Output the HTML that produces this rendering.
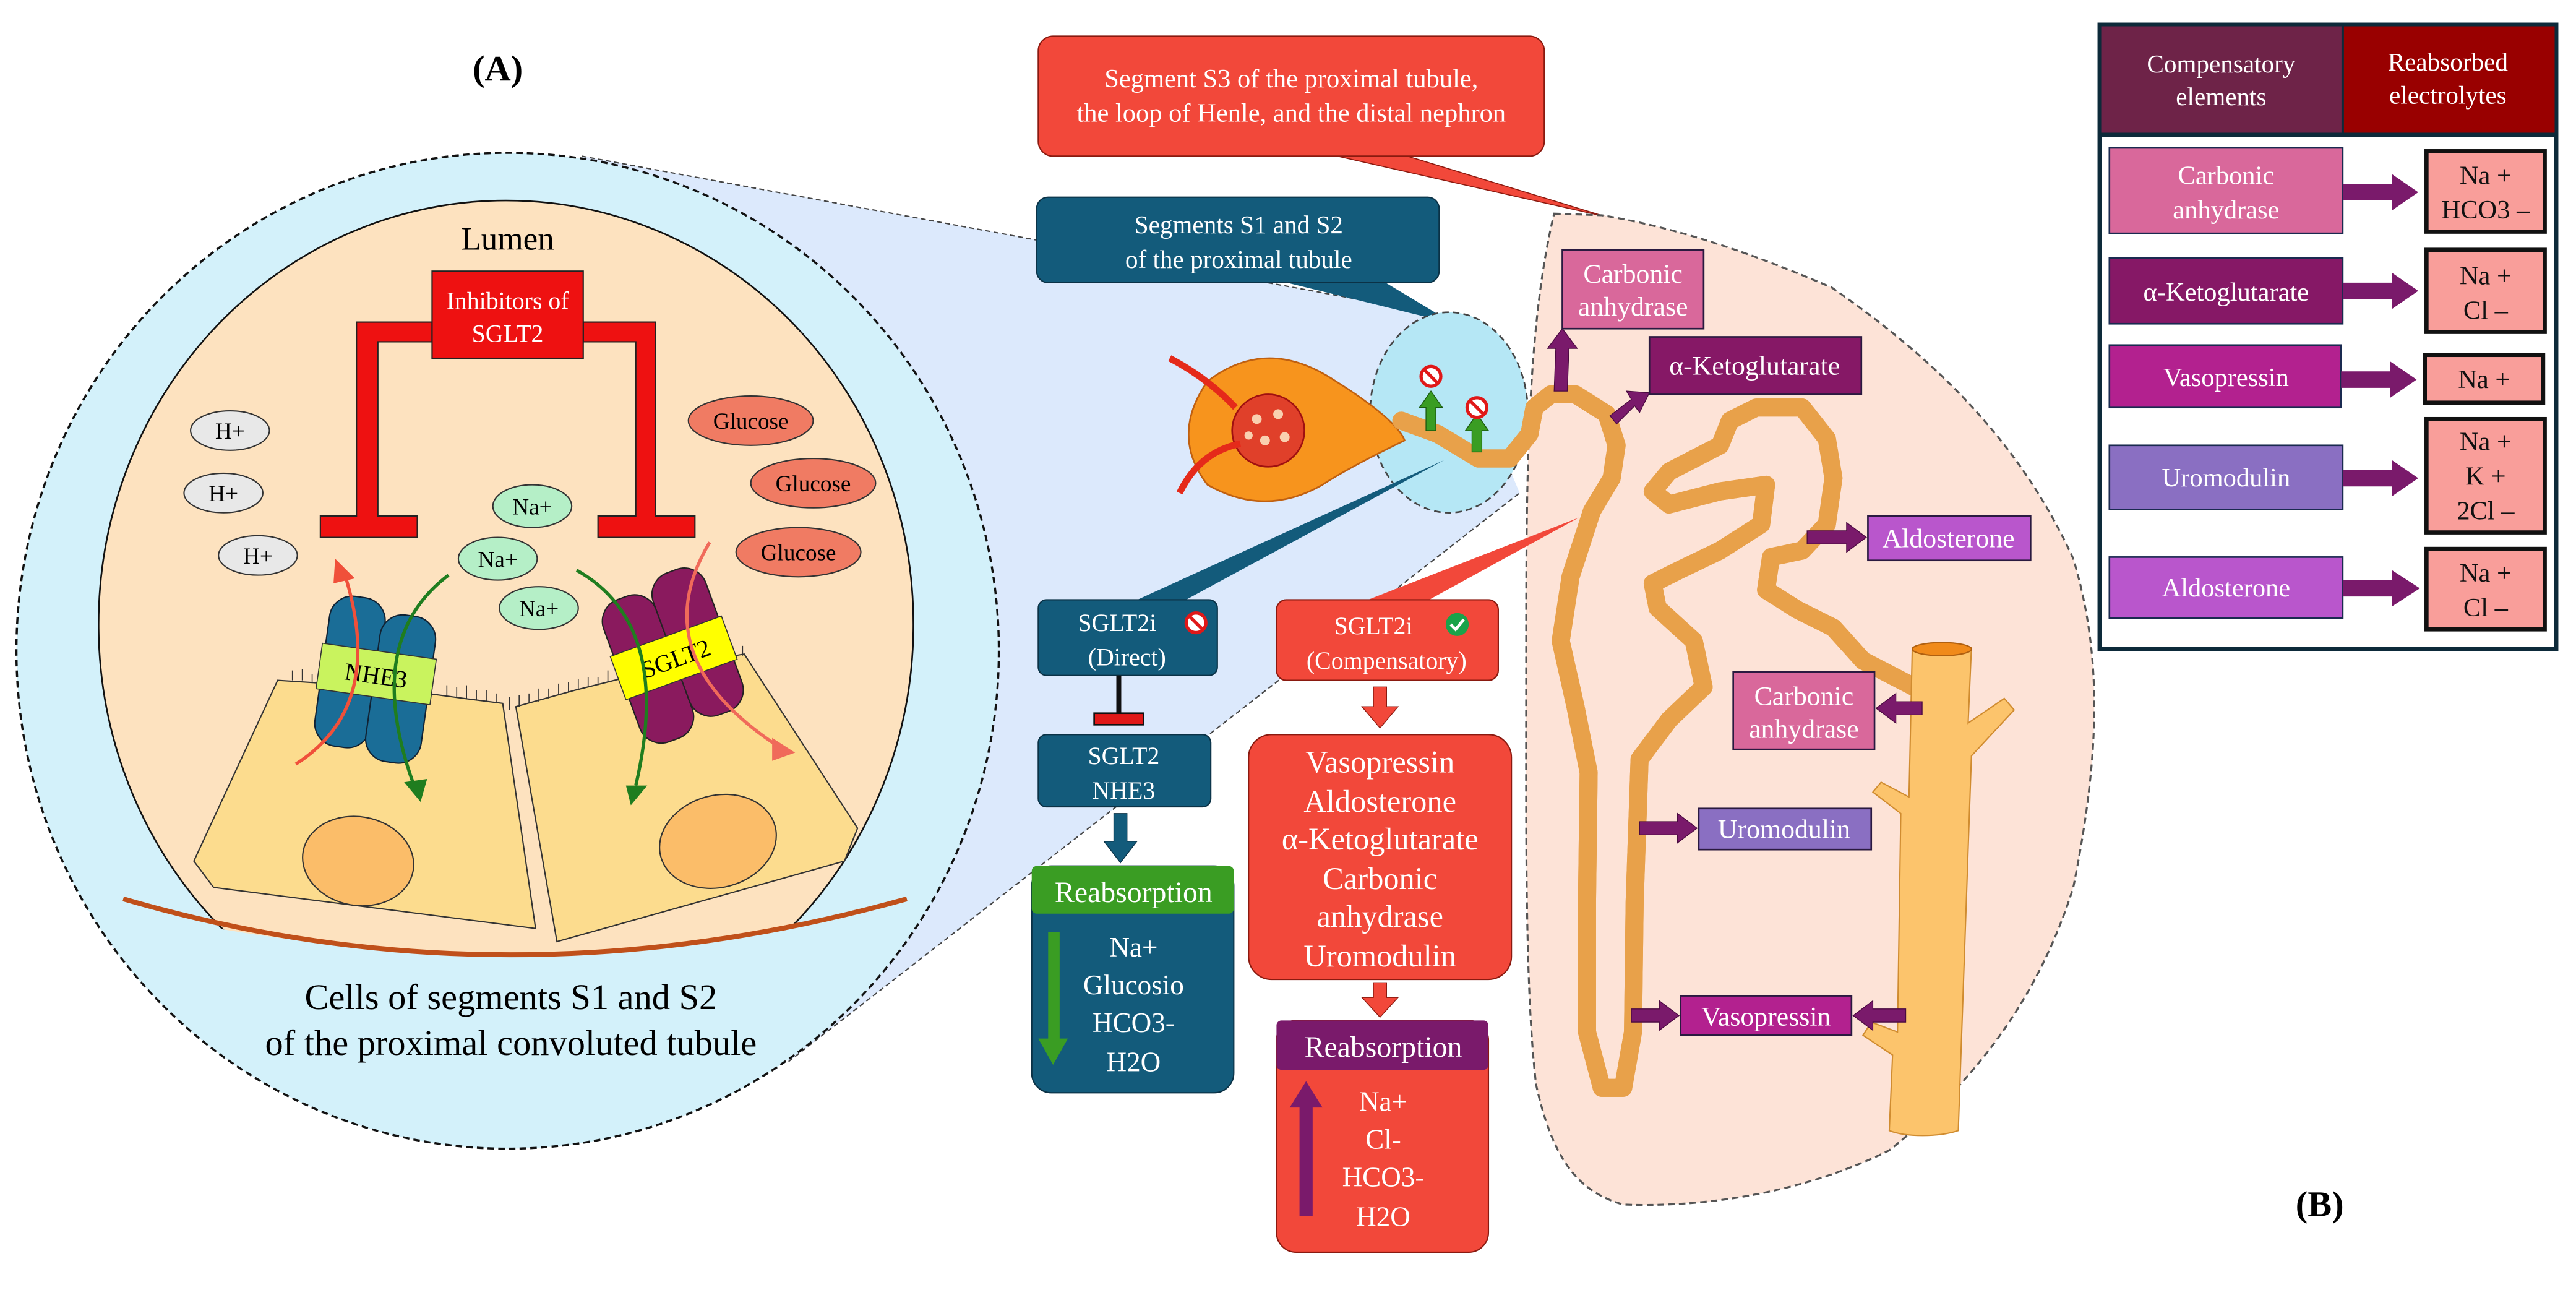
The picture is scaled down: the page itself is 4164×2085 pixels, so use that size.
<!DOCTYPE html>
<html><head><meta charset="utf-8"><style>
html,body{margin:0;padding:0;background:#fff}
svg{display:block}
svg text{font-family:"Liberation Serif",serif}
</style></head><body>
<svg width="4164" height="2085" viewBox="0 0 1568 785" preserveAspectRatio="none" xmlns="http://www.w3.org/2000/svg" font-family="Liberation Serif, serif">
<defs>
<clipPath id="lumclip"><path d="M40 545 Q308 615 575 545 L575 80 L40 80 Z"/></clipPath>
<g id="noent"><circle r="6" fill="#fff" stroke="#e01818" stroke-width="2"/><line x1="-4" y1="-4" x2="4" y2="4" stroke="#e01818" stroke-width="2"/></g>
</defs>
<rect width="1568" height="785" fill="#fff"/>

<polygon points="354,95 880,192 925,300 480,646" fill="#dce9fc"/>
<line x1="354" y1="95" x2="880" y2="192" stroke="#444" stroke-width="0.8" stroke-dasharray="3,2"/>
<line x1="480" y1="646" x2="925" y2="300" stroke="#444" stroke-width="0.8" stroke-dasharray="3,2"/>

<text x="303" y="49" font-size="22" font-weight="bold" text-anchor="middle">(A)</text>
<ellipse cx="309" cy="396" rx="299" ry="303" fill="#d3f1fa" stroke="#111" stroke-width="1.3" stroke-dasharray="4,2.5"/>
<ellipse cx="308" cy="380" rx="248" ry="258" fill="#fde2bf" stroke="#111" stroke-width="1" clip-path="url(#lumclip)"/>
<text x="309" y="152" font-size="20" text-anchor="middle">Lumen</text>

<path d="M169 414 L200 416 L230 419 L260 422 L290 426 L306 428 L326 565 L130 540 L118 524 Z" fill="#fcdc8e" stroke="#333" stroke-width="0.8"/>
<path d="M314 430 L350 420 L390 410 L430 402 L453 398 L522 504 L514 524 L339 573 Z" fill="#fcdc8e" stroke="#333" stroke-width="0.8"/>
<g stroke="#333" stroke-width="0.6">
<path d="M178 414 v-6 M184 414 v-7 M190 415 v-5 M196 415 v-7 M272 424 v-7 M278 424 v-6 M284 425 v-8 M290 426 v-6 M296 427 v-7 M302 428 v-6 M310 432 v-8 M316 430 v-7 M322 428 v-6 M328 427 v-8 M334 425 v-6 M340 423 v-7 M346 421 v-6 M352 420 v-7 M358 418 v-6 M364 417 v-5 M370 415 v-7 M440 401 v-6 M446 400 v-7 M452 399 v-6"/>
</g>
<ellipse cx="218" cy="524" rx="34" ry="27" fill="#fbbd69" stroke="#333" stroke-width="0.8" transform="rotate(10 218 524)"/>
<ellipse cx="437" cy="512" rx="36" ry="28" fill="#fbbd69" stroke="#333" stroke-width="0.8" transform="rotate(-15 437 512)"/>
<path d="M75 547 Q308 615 552 547" fill="none" stroke="#c0501a" stroke-width="3"/>

<g fill="#ee1111" stroke="#222" stroke-width="0.8">
<path d="M263 196 L217 196 L217 314 L195 314 L195 327 L254 327 L254 314 L230 314 L230 208 L263 208 Z"/>
<path d="M355 196 L399 196 L399 314 L423 314 L423 327 L364 327 L364 314 L387 314 L387 208 L355 208 Z"/>
<rect x="263" y="165" width="92" height="53"/>
</g>
<text x="309" y="188" font-size="15" fill="#fff" text-anchor="middle">Inhibitors of</text>
<text x="309" y="208" font-size="15" fill="#fff" text-anchor="middle">SGLT2</text>

<g stroke="#333" stroke-width="0.8">
<ellipse cx="140" cy="262" rx="24" ry="12" fill="#e8e8e8"/><ellipse cx="136" cy="300" rx="24" ry="12" fill="#e8e8e8"/><ellipse cx="157" cy="338" rx="24" ry="12" fill="#e8e8e8"/>
<ellipse cx="457" cy="256" rx="38" ry="15" fill="#f07b63"/><ellipse cx="495" cy="294" rx="38" ry="15" fill="#f07b63"/><ellipse cx="486" cy="336" rx="38" ry="15" fill="#f07b63"/>
<ellipse cx="324" cy="308" rx="24" ry="13" fill="#b5efc7"/><ellipse cx="303" cy="340" rx="24" ry="13" fill="#b5efc7"/><ellipse cx="328" cy="370" rx="24" ry="13" fill="#b5efc7"/>
</g>
<g font-size="14" text-anchor="middle">
<text x="140" y="267">H+</text><text x="136" y="305">H+</text><text x="157" y="343">H+</text>
<text x="457" y="261">Glucose</text><text x="495" y="299">Glucose</text><text x="486" y="341">Glucose</text>
<text x="324" y="313">Na+</text><text x="303" y="345">Na+</text><text x="328" y="375">Na+</text>
</g>

<g transform="rotate(8 228 410)">
<rect x="196" y="365" width="34" height="92" rx="14" fill="#1a6d97" stroke="#123" stroke-width="0.8"/>
<rect x="228" y="372" width="34" height="90" rx="14" fill="#1a6d97" stroke="#123" stroke-width="0.8"/>
<rect x="194" y="396" width="70" height="28" fill="#c9f35e" stroke="#333" stroke-width="0.6"/>
<text x="229" y="416" font-size="15" text-anchor="middle">NHE3</text>
</g>
<g transform="rotate(-20 411 400)">
<rect x="376" y="355" width="34" height="92" rx="14" fill="#8a1a5e" stroke="#222" stroke-width="0.8"/>
<rect x="410" y="350" width="34" height="92" rx="14" fill="#8a1a5e" stroke="#222" stroke-width="0.8"/>
<rect x="374" y="386" width="72" height="28" fill="#ffff00" stroke="#333" stroke-width="0.6"/>
<text x="411" y="406" font-size="15" text-anchor="middle">SGLT2</text>
</g>
<g fill="none" stroke-width="2">
<path d="M180 465 Q235 430 210 350" stroke="#f0503a"/>
<path d="M273 350 Q220 390 252 478" stroke="#1f7d1f"/>
<path d="M351 347 Q410 380 387 478" stroke="#1f7d1f"/>
<path d="M432 330 Q390 400 475 455" stroke="#f06a5a"/>
</g>
<polygon points="204,340 216,352 203,355" fill="#f0503a"/>
<polygon points="246,476 260,474 256,488" fill="#1f7d1f"/>
<polygon points="381,478 394,478 384,490" fill="#1f7d1f"/>
<polygon points="470,449 484,458 470,463" fill="#f06a5a"/>

<text x="311" y="614" font-size="22" text-anchor="middle">Cells of segments S1 and S2</text>
<text x="311" y="642" font-size="22" text-anchor="middle">of the proximal convoluted tubule</text>

<polygon points="805,93 850,93 978,132" fill="#f2483a" stroke="#8a1a10" stroke-width="0.6"/>
<rect x="632" y="22" width="308" height="73" rx="9" fill="#f2483a" stroke="#8a1a10" stroke-width="0.8"/>
<text x="786" y="53" font-size="16" fill="#fff" text-anchor="middle">Segment S3 of the proximal tubule,</text>
<text x="786" y="74" font-size="16" fill="#fff" text-anchor="middle">the loop of Henle, and the distal nephron</text>

<polygon points="775,170 840,170 885,197" fill="#135b7b"/>
<rect x="631" y="120" width="245" height="52" rx="7" fill="#135b7b" stroke="#0b3246" stroke-width="0.8"/>
<text x="754" y="142" font-size="15.5" fill="#fff" text-anchor="middle">Segments S1 and S2</text>
<text x="754" y="163" font-size="15.5" fill="#fff" text-anchor="middle">of the proximal tubule</text>

<path d="M946 130 L975 131 C1030 140 1080 160 1115 175 C1180 220 1230 270 1262 340 C1280 400 1278 460 1262 540 C1240 610 1200 660 1150 700 C1100 725 1040 735 988 733 C960 725 945 705 935 660 C928 600 929 500 929 400 C929 300 929 200 946 130 Z" fill="#fde3d7" stroke="#555" stroke-width="1.2" stroke-dasharray="4,2.5"/>

<ellipse cx="882" cy="251" rx="48" ry="61" fill="#b5e7f5" stroke="#444" stroke-width="1" stroke-dasharray="4,2.5"/>

<polygon points="879,280 690,366 720,366" fill="#135b7b"/>
<polygon points="961,315 830,366 868,366" fill="#f2483a"/>

<path d="M735 232 Q770 205 810 230 Q850 255 855 268 Q820 285 805 295 Q770 315 735 295 Q712 265 735 232 Z" fill="#f7941d" stroke="#c06010" stroke-width="1"/>
<circle cx="772" cy="262" r="22" fill="#e0402a" stroke="#a01010" stroke-width="1"/>
<g fill="#f9d0b0"><circle cx="765" cy="255" r="3"/><circle cx="778" cy="252" r="3"/><circle cx="770" cy="268" r="3"/><circle cx="782" cy="266" r="3"/><circle cx="760" cy="265" r="2.5"/></g>
<path d="M712 218 Q735 230 752 248 M718 300 Q730 275 755 270" stroke="#e52a1a" stroke-width="4" fill="none"/>

<g fill="none" stroke-linecap="round" stroke-linejoin="round">
<polyline id="tub" points="853,256 875,264 900,279 919,279 931,264 934,248 944,240 959,240 978,252 984,271 981,291 969,311 956,351 950,390 959,430 967,470 966,549 966,628 975,662 988,662 994,628 995,549 998,462 1016,438 1037,418 1031,390 1009,370 1006,355 1022,347 1047,335 1072,319 1075,295 1047,299 1016,307 1006,299 1016,287 1047,271 1053,256 1069,248 1097,248 1112,267 1116,291 1112,319 1097,335 1078,339 1075,359 1094,371 1116,382 1134,402 1165,418" stroke="#e8a14a" stroke-width="11"/>
<use href="#tub" stroke="#fcc873" stroke-width="8"/>
</g>
<path d="M1164 394 L1200 394 L1198 440 L1220 425 L1226 432 L1200 460 L1192 688 C1180 692 1160 692 1150 688 L1152 642 L1134 630 L1139 622 L1155 628 L1157 495 L1140 482 L1145 476 L1162 485 Z" fill="#fcc46c" stroke="#d08c30" stroke-width="0.8"/>
<ellipse cx="1182" cy="395" rx="18" ry="4" fill="#f08a1a" stroke="#b06010" stroke-width="0.8"/>

<g fill="#3a9d23" stroke="#1a5a10" stroke-width="0.5">
<polygon points="868,262 868,248 864,248 871,238 878,248 874,248 874,262"/>
<polygon points="896,275 896,262 892,262 899,252 906,262 902,262 902,275"/>
</g>
<use href="#noent" x="871" y="229"/><use href="#noent" x="899" y="248"/>

<g fill="#7a1a6b" stroke="#4a0a40" stroke-width="0.5">
<polygon points="946,238 947,212 942,212 951,200 960,212 955,212 954,238"/>
<polygon points="980,253 993,243 990,238 1004,239 998,251 995,247 984,258"/>
<polygon points="1100,323 1124,323 1124,318 1136,327 1124,336 1124,331 1100,331"/>
<polygon points="1170,427 1154,427 1154,422 1142,431 1154,440 1154,435 1170,435"/>
<polygon points="998,500 1021,500 1021,495 1033,504 1021,513 1021,508 998,508"/>
<polygon points="993,614 1010,614 1010,609 1022,618 1010,627 1010,622 993,622"/>
<polygon points="1160,614 1140,614 1140,609 1128,618 1140,627 1140,622 1160,622"/>
</g>
<g stroke="#2a1a40" stroke-width="1">
<rect x="951" y="152" width="86" height="48" fill="#d9689b"/>
<rect x="1004" y="205" width="129" height="35" fill="#861866"/>
<rect x="1137" y="314" width="99" height="27" fill="#b956cc"/>
<rect x="1055" y="409" width="86" height="47" fill="#d9689b"/>
<rect x="1034" y="492" width="105" height="25" fill="#8a6fc2"/>
<rect x="1023" y="606" width="104" height="24" fill="#b3218f"/>
</g>
<g fill="#fff" font-size="16.5" text-anchor="middle">
<text x="994" y="172">Carbonic</text><text x="994" y="192">anhydrase</text>
<text x="1068" y="228">α-Ketoglutarate</text>
<text x="1186" y="333">Aldosterone</text>
<text x="1098" y="429">Carbonic</text><text x="1098" y="449">anhydrase</text>
<text x="1086" y="510">Uromodulin</text>
<text x="1075" y="624">Vasopressin</text>
</g>

<rect x="632" y="365" width="109" height="46" rx="5" fill="#135b7b" stroke="#0b3246" stroke-width="0.8"/>
<text x="680" y="384" font-size="15" fill="#fff" text-anchor="middle">SGLT2i</text>
<use href="#noent" x="728" y="379"/>
<text x="686" y="405" font-size="15" fill="#fff" text-anchor="middle">(Direct)</text>
<line x1="681" y1="411" x2="681" y2="435" stroke="#111" stroke-width="3"/>
<rect x="666" y="434" width="30" height="7" fill="#e01818" stroke="#111" stroke-width="1"/>
<rect x="632" y="447" width="105" height="44" rx="5" fill="#135b7b" stroke="#0b3246" stroke-width="0.8"/>
<text x="684" y="465" font-size="15" fill="#fff" text-anchor="middle">SGLT2</text>
<text x="684" y="486" font-size="15" fill="#fff" text-anchor="middle">NHE3</text>
<polygon points="678,495 686,495 686,512 692,512 682,525 672,512 678,512" fill="#135b7b" stroke="#0b3246" stroke-width="0.5"/>
<rect x="628" y="527" width="123" height="138" rx="12" fill="#135b7b" stroke="#0b3246" stroke-width="0.8"/>
<rect x="628" y="527" width="123" height="29" rx="3" fill="#3a9d23"/>
<text x="690" y="549" font-size="18" fill="#fff" text-anchor="middle">Reabsorption</text>
<polygon points="638,567 645,567 645,632 650,632 641,648 632,632 638,632" fill="#3a9d23"/>
<g font-size="17" fill="#fff" text-anchor="middle">
<text x="690" y="582">Na+</text><text x="690" y="605">Glucosio</text><text x="690" y="628">HCO3-</text><text x="690" y="652">H2O</text>
</g>

<rect x="777" y="365" width="135" height="49" rx="6" fill="#f2483a" stroke="#8a1a10" stroke-width="0.8"/>
<text x="836" y="386" font-size="15" fill="#fff" text-anchor="middle">SGLT2i</text>
<circle cx="887" cy="380" r="7" fill="#1aa34a"/><path d="M883 380 l3 3 l5 -6" stroke="#fff" stroke-width="1.8" fill="none"/>
<text x="844" y="407" font-size="15" fill="#fff" text-anchor="middle">(Compensatory)</text>
<polygon points="836,418 844,418 844,430 851,430 840,443 829,430 836,430" fill="#f2483a" stroke="#8a1a10" stroke-width="0.5"/>
<rect x="760" y="447" width="160" height="149" rx="14" fill="#f2483a" stroke="#8a1a10" stroke-width="0.8"/>
<g font-size="19" fill="#fff" text-anchor="middle">
<text x="840" y="470">Vasopressin</text><text x="840" y="494">Aldosterone</text><text x="840" y="517">α-Ketoglutarate</text><text x="840" y="541">Carbonic</text><text x="840" y="564">anhydrase</text><text x="840" y="588">Uromodulin</text>
</g>
<polygon points="836,598 844,598 844,607 851,607 840,619 829,607 836,607" fill="#f2483a" stroke="#8a1a10" stroke-width="0.5"/>
<rect x="777" y="621" width="129" height="141" rx="12" fill="#f2483a" stroke="#8a1a10" stroke-width="0.8"/>
<rect x="777" y="621" width="129" height="30" rx="3" fill="#7a1a6b"/>
<text x="842" y="643" font-size="18" fill="#fff" text-anchor="middle">Reabsorption</text>
<polygon points="791,740 799,740 799,674 805,674 795,658 785,674 791,674" fill="#7a1a6b"/>
<g font-size="17" fill="#fff" text-anchor="middle">
<text x="842" y="676">Na+</text><text x="842" y="699">Cl-</text><text x="842" y="722">HCO3-</text><text x="842" y="746">H2O</text>
</g>

<rect x="1278" y="15" width="278" height="380" fill="#fff" stroke="#0d2a3a" stroke-width="2.5"/>
<rect x="1279" y="16" width="147" height="65" fill="#6e2348"/>
<rect x="1426" y="16" width="129" height="65" fill="#990000"/>
<line x1="1278" y1="82" x2="1556" y2="82" stroke="#0d2a3a" stroke-width="2.5"/>
<line x1="1426" y1="15" x2="1426" y2="82" stroke="#0d2a3a" stroke-width="1.5"/>
<g fill="#fff" font-size="15.5" text-anchor="middle">
<text x="1352" y="44">Compensatory</text><text x="1352" y="64">elements</text>
<text x="1490" y="43">Reabsorbed</text><text x="1490" y="63">electrolytes</text>
</g>
<g stroke="#1a2a50" stroke-width="1">
<rect x="1284" y="90" width="142" height="52" fill="#d9689b"/>
<rect x="1284" y="157" width="142" height="40" fill="#861866"/>
<rect x="1284" y="210" width="141" height="38" fill="#b3218f"/>
<rect x="1284" y="271" width="142" height="39" fill="#8a6fc2"/>
<rect x="1284" y="339" width="142" height="37" fill="#b956cc"/>
</g>
<g fill="#fff" font-size="16" text-anchor="middle">
<text x="1355" y="112">Carbonic</text><text x="1355" y="133">anhydrase</text>
<text x="1355" y="183">α-Ketoglutarate</text>
<text x="1355" y="235">Vasopressin</text>
<text x="1355" y="296">Uromodulin</text>
<text x="1355" y="363">Aldosterone</text>
</g>
<g fill="#7a1a6b">
<polygon points="1426,112 1456,112 1456,106 1472,117 1456,128 1456,122 1426,122"/>
<polygon points="1426,172 1456,172 1456,166 1472,177 1456,188 1456,182 1426,182"/>
<polygon points="1425,226 1455,226 1455,220 1471,231 1455,242 1455,236 1425,236"/>
<polygon points="1426,286 1456,286 1456,280 1472,291 1456,302 1456,296 1426,296"/>
<polygon points="1426,353 1456,353 1456,347 1473,358 1456,369 1456,363 1426,363"/>
</g>
<g fill="#f99e9a" stroke="#111" stroke-width="2.5">
<rect x="1477" y="92" width="72" height="49"/>
<rect x="1477" y="152" width="72" height="50"/>
<rect x="1476" y="216" width="72" height="29"/>
<rect x="1477" y="255" width="72" height="69"/>
<rect x="1477" y="334" width="72" height="49"/>
</g>
<g font-size="16" text-anchor="middle" fill="#111">
<text x="1513" y="112">Na +</text><text x="1513" y="133">HCO3 –</text>
<text x="1513" y="173">Na +</text><text x="1513" y="194">Cl –</text>
<text x="1512" y="236">Na +</text>
<text x="1513" y="274">Na +</text><text x="1513" y="295">K +</text><text x="1513" y="316">2Cl –</text>
<text x="1513" y="354">Na +</text><text x="1513" y="375">Cl –</text>
</g>
<text x="1412" y="740" font-size="22" font-weight="bold" text-anchor="middle">(B)</text>
</svg>
</body></html>
